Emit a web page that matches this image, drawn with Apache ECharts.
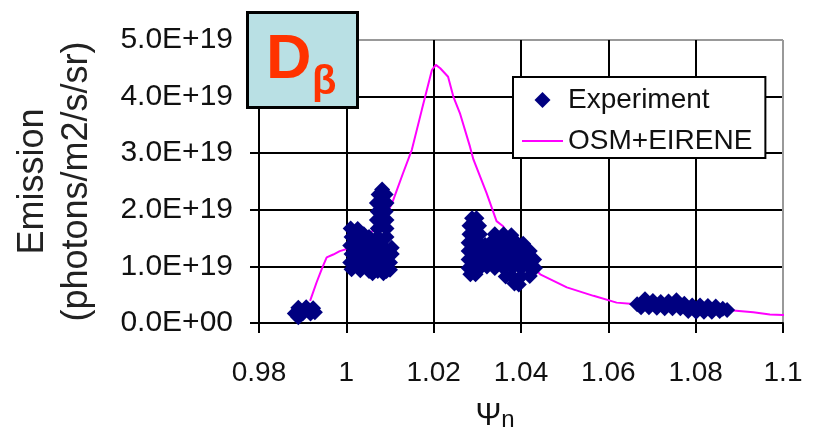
<!DOCTYPE html>
<html><head><meta charset="utf-8">
<script src="https://cdn.jsdelivr.net/npm/echarts@6/dist/echarts.min.js"></script>
<style>html,body{margin:0;padding:0;background:#fff}#c{width:813px;height:437px}</style>
</head><body><div id="c"></div>
<script>
// Tick labels
const xTickLabels = ['0.98', '1', '1.02', '1.04', '1.06', '1.08', '1.1'];
const yTickLabels = ['0.0E+00', '1.0E+19', '2.0E+19', '3.0E+19', '4.0E+19', '5.0E+19'];

// OSM+EIRENE model (psi_n, emission in units of 1e19 photons/m2/s/sr)
const modelPsi = [0.9917, 0.9932, 0.9945, 0.9955, 0.9970, 0.9985, 1.0010, 1.0050, 1.0080, 1.0104, 1.0130, 1.0150, 1.0173, 1.0196, 1.0205, 1.0215, 1.0233, 1.0245, 1.0260, 1.0283, 1.0291, 1.0321, 1.0344, 1.0359, 1.0380, 1.0410, 1.0444, 1.0505, 1.0566, 1.0619, 1.0650, 1.0700, 1.0750, 1.0800, 1.0850, 1.0886, 1.0932, 1.0970, 1.1000, 1.1020];
const modelEmission = [0.39, 0.72, 0.98, 1.16, 1.21, 1.27, 1.33, 1.55, 1.78, 2.10, 2.65, 3.06, 3.77, 4.47, 4.56, 4.50, 4.35, 4.00, 3.71, 3.12, 2.89, 2.30, 1.80, 1.71, 1.48, 1.12, 0.86, 0.63, 0.48, 0.36, 0.34, 0.30, 0.27, 0.25, 0.23, 0.22, 0.19, 0.15, 0.14, 0.14];

// Experiment points [psi_n, emission (1e19)], grouped by measurement cluster
const expClusterA = [
  [0.9882, 0.17], [0.9900, 0.17], [0.9918, 0.17], [0.9928, 0.19],
  [0.9890, 0.27], [0.9908, 0.28], [0.9924, 0.26], [0.9890, 0.10]
];
const expClusterB = [
  [1.0060, 0.88], [1.0085, 0.88],
  [1.0012, 0.95], [1.0032, 0.93], [1.0052, 0.92], [1.0072, 0.92], [1.0092, 0.92], [1.0100, 0.94],
  [1.0009, 1.07], [1.0022, 1.07], [1.0042, 1.07], [1.0062, 1.07], [1.0082, 1.07], [1.0100, 1.07],
  [1.0012, 1.22], [1.0032, 1.22], [1.0052, 1.22], [1.0072, 1.22], [1.0092, 1.22], [1.0104, 1.22],
  [1.0009, 1.37], [1.0022, 1.37], [1.0042, 1.37], [1.0062, 1.37], [1.0082, 1.37], [1.0104, 1.33],
  [1.0012, 1.52], [1.0032, 1.50], [1.0052, 1.52], [1.0072, 1.52], [1.0092, 1.52],
  [1.0010, 1.67], [1.0026, 1.66], [1.0040, 1.57],
  [1.0072, 1.67], [1.0092, 1.67],
  [1.0070, 1.82], [1.0082, 1.82], [1.0092, 1.82],
  [1.0072, 1.97], [1.0090, 1.97],
  [1.0070, 2.12], [1.0082, 2.12], [1.0092, 2.12],
  [1.0074, 2.27], [1.0090, 2.27],
  [1.0082, 2.36]
];
const expClusterC = [
  [1.0385, 0.70], [1.0395, 0.68],
  [1.0365, 0.82], [1.0380, 0.82], [1.0400, 0.82], [1.0420, 0.83],
  [1.0284, 0.86], [1.0296, 0.86],
  [1.0280, 0.97], [1.0294, 0.97], [1.0306, 0.97], [1.0322, 1.00], [1.0340, 0.97], [1.0360, 0.97], [1.0380, 0.97], [1.0400, 0.97], [1.0420, 0.97], [1.0432, 0.97],
  [1.0280, 1.12], [1.0292, 1.12], [1.0304, 1.12], [1.0316, 1.12], [1.0330, 1.12], [1.0350, 1.12], [1.0370, 1.12], [1.0390, 1.12], [1.0410, 1.12], [1.0430, 1.12],
  [1.0280, 1.27], [1.0294, 1.27], [1.0306, 1.27], [1.0322, 1.27], [1.0340, 1.27], [1.0360, 1.27], [1.0380, 1.27], [1.0400, 1.27], [1.0420, 1.27],
  [1.0280, 1.42], [1.0292, 1.42], [1.0304, 1.42], [1.0318, 1.38], [1.0330, 1.42], [1.0350, 1.42], [1.0370, 1.42], [1.0390, 1.42], [1.0405, 1.40],
  [1.0282, 1.57], [1.0294, 1.57], [1.0306, 1.57], [1.0340, 1.57], [1.0360, 1.57], [1.0378, 1.55],
  [1.0282, 1.72], [1.0294, 1.72], [1.0304, 1.72],
  [1.0288, 1.85], [1.0298, 1.85]
];
const expClusterD = [
  [1.0666, 0.33], [1.0684, 0.42], [1.0702, 0.39], [1.0720, 0.37], [1.0738, 0.38], [1.0756, 0.40], [1.0774, 0.34], [1.0792, 0.31], [1.0810, 0.31], [1.0828, 0.30], [1.0846, 0.29], [1.0862, 0.25], [1.0872, 0.23],
  [1.0675, 0.28], [1.0693, 0.28], [1.0711, 0.27], [1.0729, 0.26], [1.0747, 0.26], [1.0765, 0.26], [1.0783, 0.21], [1.0801, 0.20], [1.0819, 0.20], [1.0837, 0.20], [1.0855, 0.21]
];

const FONT = "'Liberation Sans', Arial, sans-serif";
const experimentData = expClusterA.concat(expClusterB, expClusterC, expClusterD);
const modelData = modelPsi.map((x, i) => [x, modelEmission[i]]);

const chart = echarts.init(document.getElementById('c'), null, {renderer: 'canvas'});
chart.setOption({
  animation: false,
  backgroundColor: '#fff',
  textStyle: {fontFamily: FONT},
  grid: {left: 259, right: 30, top: 40, bottom: 113, containLabel: false},
  legend: {
    orient: 'vertical', left: 513, top: 77,
    padding: [9, 13, 3, 9],
    backgroundColor: '#fff', borderColor: '#000', borderWidth: 2, borderRadius: 0,
    itemWidth: 41, itemHeight: 16, itemGap: 13, itemTextGap: 7,
    symbolKeepAspect: true,
    selectedMode: false,
    textStyle: {fontSize: 28, lineHeight: 28, color: '#111', fontFamily: FONT},
    data: [
      {name: 'Experiment', icon: 'path://M8,0 L16,8 L8,16 L0,8 Z'},
      {name: 'OSM+EIRENE', icon: 'path://M0,0 L41,0 L41,2 L0,2 Z'}
    ]
  },
  xAxis: {
    type: 'value', min: 0.98, max: 1.1, interval: 0.02,
    name: '{a|Ψ}{b|n}', nameLocation: 'middle', nameGap: 77,
    nameTextStyle: {
      padding: [0, 52, 0, 0],
      rich: {
        a: {fontSize: 31, lineHeight: 32, color: '#111', fontFamily: FONT},
        b: {fontSize: 24, lineHeight: 14, verticalAlign: 'bottom', color: '#111', fontFamily: FONT}
      }
    },
    axisLine: {show: true, lineStyle: {color: '#000', width: 2}},
    axisTick: {show: true, length: 10, lineStyle: {color: '#000', width: 2}},
    axisLabel: {
      fontSize: 28, color: '#111', margin: 36, fontFamily: FONT,
      formatter: v => xTickLabels[Math.round((v - 0.98) / 0.02)]
    },
    splitLine: {show: true, lineStyle: {color: ['#000', '#000', '#000', '#000', '#000', '#000', '#999'], width: 2}}
  },
  yAxis: {
    type: 'value', min: 0, max: 5, interval: 1,
    name: 'Emission\n(photons/m2/s/sr)', nameLocation: 'middle', nameRotate: 90, nameGap: 160,
    nameTextStyle: {fontSize: 36, lineHeight: 44, color: '#222', fontFamily: FONT},
    axisLine: {show: true, lineStyle: {color: '#000', width: 2}},
    axisTick: {show: true, length: 9, lineStyle: {color: '#000', width: 2}},
    axisLabel: {
      fontSize: 30, color: '#111', margin: 26, fontFamily: FONT,
      formatter: v => yTickLabels[Math.round(v)]
    },
    splitLine: {show: true, lineStyle: {color: ['#000', '#000', '#000', '#000', '#000', '#999'], width: 2}}
  },
  series: [
    {
      name: 'OSM+EIRENE', type: 'line', data: modelData,
      symbol: 'none', showSymbol: false, clip: false, z: 2,
      lineStyle: {color: '#ff00ff', width: 2}, itemStyle: {color: '#ff00ff'}
    },
    {
      name: 'Experiment', type: 'scatter', data: experimentData,
      symbol: 'diamond', symbolSize: 16, z: 3,
      itemStyle: {color: '#000080', opacity: 1}
    }
  ],
  graphic: [
    {
      type: 'group', z: 100,
      children: [
        {type: 'rect', shape: {x: 247.5, y: 12.5, width: 110, height: 95}, style: {fill: '#b9e0e4', stroke: '#000', lineWidth: 3}, z: 100},
        {type: 'text', x: 266, y: 60.5, style: {text: 'D', fontSize: 63, fontWeight: 'bold', fill: '#ff3300', align: 'left', verticalAlign: 'middle', fontFamily: FONT}, z: 101},
        {type: 'text', x: 312, y: 83, style: {text: 'β', fontSize: 40, fontWeight: 'bold', fill: '#ff3300', align: 'left', verticalAlign: 'middle', fontFamily: FONT}, z: 101}
      ]
    }
  ]
});
</script></body></html>
